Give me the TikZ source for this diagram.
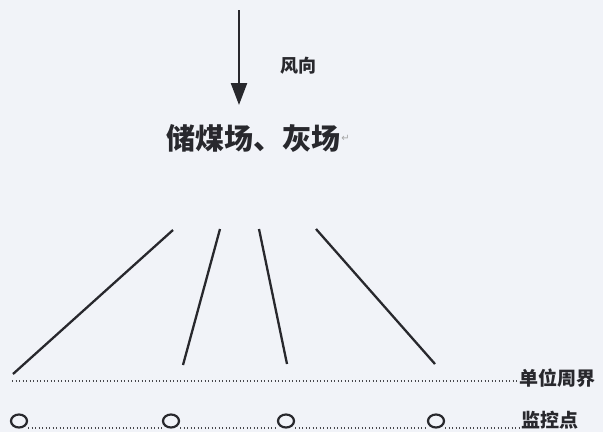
\documentclass[tikz,border=0pt]{standalone}
\usepackage{fontspec}
\newfontfamily\cjk{Noto Sans CJK SC}
\newfontfamily\dejavu{DejaVu Sans}
\usetikzlibrary{arrows.meta,shapes.geometric}
\definecolor{bgc}{RGB}{241,243,248}
\definecolor{ink}{RGB}{40,40,45}
\tikzset{
  ray/.style={draw=ink, line width=2.3pt},
  dotline/.style={draw=ink!85, line width=2pt, dash pattern=on 1.3pt off 2.2pt},
  pointc/.style={draw=ink, line width=2.2pt, ellipse, minimum width=16pt, minimum height=13pt, inner sep=0pt},
  lbl/.style={font=\cjk\bfseries\fontsize{19}{19}\selectfont, text=ink, inner sep=0pt, anchor=west},
}
\begin{document}
\begin{tikzpicture}[x=1pt,y=-1pt]
\fill[bgc] (0,0) rectangle (603,432);
\useasboundingbox (0,0) rectangle (603,432);
% wind arrow
\coordinate (wtop) at (239,10);
\coordinate (wtip) at (239,105);
\draw[draw=ink, line width=2.4pt, -{Triangle[length=22pt,width=16pt]}] (wtop) -- (wtip);
\node[font=\cjk\bfseries\fontsize{18}{18}\selectfont, text=ink, inner sep=0pt] (wind) at (298,66) {风向};
% source
\node[font=\cjk\bfseries\fontsize{29}{29}\selectfont, text=ink, inner sep=0pt] (src) at (253,138) {储煤场、灰场};
\node[font=\dejavu\fontsize{10}{10}\selectfont, text=gray!70, inner sep=1pt, anchor=west] (ret) at (src.east) {↵};
% rays
\coordinate (t1) at (173,230); \coordinate (b1) at (13,374);
\coordinate (t2) at (220,229); \coordinate (b2) at (183,365);
\coordinate (t3) at (259,229); \coordinate (b3) at (287,364);
\coordinate (t4) at (316,229); \coordinate (b4) at (435,364);
\draw[ray] (t1) -- (b1);
\draw[ray] (t2) -- (b2);
\draw[ray] (t3) -- (b3);
\draw[ray] (t4) -- (b4);
% boundary
\node[lbl] (bound) at (519,378) {单位周界};
\coordinate (bstart) at (12,381);
\draw[dotline] (bstart) -- (bound.west |- bstart);
% monitoring points
\node[pointc] (c1) at (19,421) {};
\node[pointc] (c2) at (171,421) {};
\node[pointc] (c3) at (286,421) {};
\node[pointc] (c4) at (436,421) {};
\node[lbl] (mon) at (521,420) {监控点};
\draw[dotline] (c1.east |- 0,428) -- (c2.west |- 0,428);
\draw[dotline] (c2.east |- 0,428) -- (c3.west |- 0,428);
\draw[dotline] (c3.east |- 0,428) -- (c4.west |- 0,428);
\draw[dotline] (c4.east |- 0,428) -- (mon.west |- 0,428);
\end{tikzpicture}
\end{document}
